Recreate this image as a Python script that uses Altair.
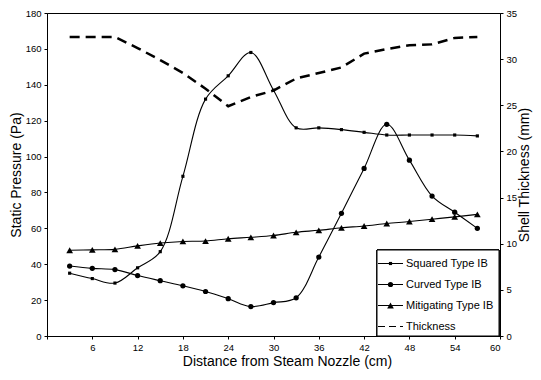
import altair as alt
import pandas as pd

# ---- data ----
distance = [3, 6, 9, 12, 15, 18, 21, 24, 27, 30, 33, 36, 39, 42, 45, 48, 51, 54, 57]
squared = [35, 32, 29.5, 38, 47, 89, 132, 145, 158, 137, 116, 116, 115, 113.5, 112, 112, 112, 112, 111.5]
curved = [39, 37.7, 37, 33.7, 30.8, 28, 24.8, 20.8, 16.4, 18.6, 21.3, 44, 68.4, 93.4, 118, 98, 78, 69, 60]
mitigating = [47.8, 48, 48.3, 50.2, 51.8, 52.7, 52.9, 54.2, 55, 56, 57.8, 58.9, 60.3, 61.3, 62.7, 63.8, 65.1, 66.4, 67.8]
thickness = [32.4, 32.4, 32.4, 31.2, 29.9, 28.5, 26.8, 24.9, 25.9, 26.6, 27.9, 28.5, 29.1, 30.6, 31.1, 31.5, 31.6, 32.3, 32.4]

pressure_names = ["Squared Type IB", "Curved Type IB", "Mitigating Type IB"]
legend_names = pressure_names + ["Thickness"]

rows = []
for name, vals in zip(pressure_names, [squared, curved, mitigating]):
    for x, v in zip(distance, vals):
        rows.append({"x": x, "value": v, "series": name})
df_p = pd.DataFrame(rows)
df_t = pd.DataFrame({"x": distance, "thickness": thickness})
df_leg = pd.DataFrame({"series": legend_names, "idx": list(range(len(legend_names)))})

FONT = "Liberation Sans"
W, H = 453, 323

x_enc = alt.X("x:Q", scale=alt.Scale(domain=[0, 60], nice=False),
              axis=alt.Axis(values=list(range(0, 61, 6)), title="Distance from Steam Nozzle (cm)",
                            labelExpr="datum.value == 0 ? '' : datum.label",
                            titlePadding=3, titleX=240))
y_p = alt.Y("value:Q", scale=alt.Scale(domain=[0, 180], nice=False),
            axis=alt.Axis(values=list(range(0, 181, 20)), title="Static Pressure (Pa)",
                          orient="left", titlePadding=2))

shape_scale = alt.Scale(domain=pressure_names, range=["square", "circle", "triangle-up"])
size_scale = alt.Scale(domain=pressure_names, range=[10, 45, 28])

p_lines = alt.Chart(df_p).mark_line(interpolate="catmull-rom", color="black", strokeWidth=1.1).encode(
    x=x_enc, y=y_p, detail="series:N")
p_points = alt.Chart(df_p).mark_point(filled=True, color="black", opacity=1).encode(
    x=x_enc, y=y_p,
    shape=alt.Shape("series:N", scale=shape_scale, legend=None),
    size=alt.Size("series:N", scale=size_scale, legend=None))

t_line = alt.Chart(df_t).mark_line(color="black", strokeWidth=2.5, strokeDash=[10, 6]).encode(
    x=x_enc,
    y=alt.Y("thickness:Q", scale=alt.Scale(domain=[0, 35], nice=False),
            axis=alt.Axis(values=list(range(0, 36, 5)), title="Shell Thickness (mm)",
                          orient="right", titleAngle=270, titleBaseline="top", titlePadding=1)))

main = alt.layer(alt.layer(p_lines, p_points), t_line).resolve_scale(y="independent")

# ---- legend box (drawn inside plot) ----
box_top = H - 86
leg_box = alt.Chart(df_leg).mark_rect(fill="white", stroke="black", strokeWidth=1).encode(
    x=alt.value(330), x2=alt.value(W - 1), y=alt.value(box_top), y2=alt.value(H))
leg_base = alt.Chart(df_leg).transform_calculate(ly=f"{box_top + 13.5} + 21 * datum.idx")
leg_lines = leg_base.mark_rule(color="black").encode(
    x=alt.value(331), x2=alt.value(356),
    y=alt.Y("ly:Q", scale=None),
    strokeDash=alt.StrokeDash("series:N", scale=alt.Scale(domain=legend_names,
                              range=[[1, 0], [1, 0], [1, 0], [7, 4]]), legend=None),
    strokeWidth=alt.StrokeWidth("series:N", scale=alt.Scale(domain=legend_names,
                                range=[1, 1.1, 1, 2.5]), legend=None))
leg_points = leg_base.transform_filter(alt.FieldOneOfPredicate(field="series", oneOf=pressure_names)).mark_point(
    filled=True, color="black", opacity=1).encode(
    x=alt.value(343.5), y=alt.Y("ly:Q", scale=None),
    shape=alt.Shape("series:N", scale=shape_scale, legend=None),
    size=alt.Size("series:N", scale=size_scale, legend=None))
leg_text = leg_base.mark_text(align="left", baseline="middle", font=FONT, fontSize=11, color="black").encode(
    x=alt.value(359), y=alt.Y("ly:Q", scale=None), text="series:N")

chart = alt.layer(main, leg_box, leg_lines, leg_points, leg_text).properties(
    width=W, height=H,
    background="white",
    autosize=alt.AutoSizeParams(type="none"),
    padding={"left": 39, "top": 5, "right": 33, "bottom": 36},
).configure_view(stroke="black", strokeWidth=1).configure_axis(
    grid=False, domainColor="black", tickColor="black", tickSize=3,
    labelFont=FONT, labelFontSize=9.5, labelColor="black", labelPadding=3,
    titleFont=FONT, titleFontSize=14, titleFontWeight="normal", titleColor="black",
)

chart.save("out.html", embed_options={"renderer": "svg", "actions": False})
